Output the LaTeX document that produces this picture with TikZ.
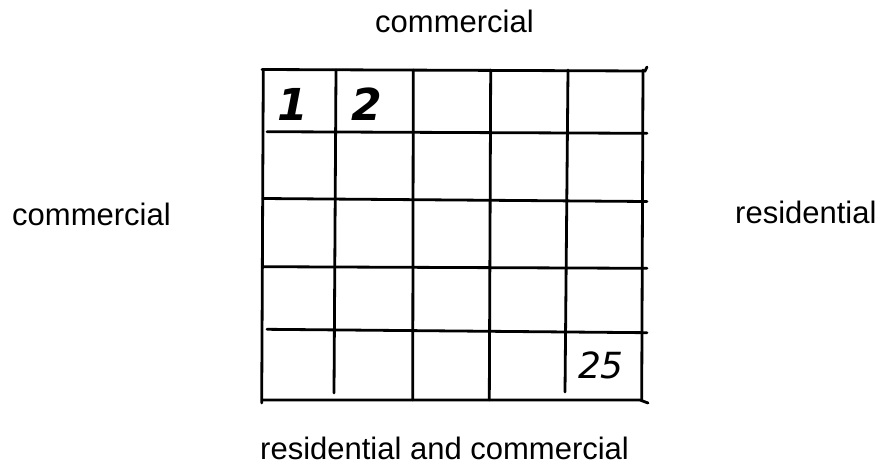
\documentclass[tikz,border=0pt]{standalone}
\usepackage{fontspec}
\setmainfont{Liberation Sans}
\newfontfamily\handfont{DejaVu Sans}
\begin{document}
\begin{tikzpicture}[x=1pt,y=-1pt,
  gridline/.style={line width=2.8pt,line cap=round,black},
  label/.style={font=\fontsize{31}{36}\selectfont,inner sep=0pt,anchor=base west},
  digit/.style={inner sep=0pt}]
\useasboundingbox (0,0) rectangle (883,464);
% outer frame
\draw[gridline] (262,69.5) -- (645,71) -- (647,67);
\draw[gridline] (263.3,70) -- (261.7,403);
\draw[gridline] (262,400) -- (640,400) -- (648,403);
\draw[gridline] (643,70) -- (641.7,400);
% vertical lines
\draw[gridline] (336,70) -- (334,393);
\draw[gridline] (413.3,70) -- (412.7,400);
\draw[gridline] (490.7,70) -- (489.3,400);
\draw[gridline] (568,70) -- (565,392);
% horizontal lines
\draw[gridline] (267,131.7) -- (647,133.3);
\draw[gridline] (263,198.5) -- (647,201.5);
\draw[gridline] (263,266.7) -- (647,268.3);
\draw[gridline] (267,329.3) -- (647,332.7);
% cell numbers
\node[digit,font=\handfont\bfseries\itshape\fontsize{44}{48}\selectfont] (n1) at (293,104) {1};
\node[digit,font=\handfont\bfseries\itshape\fontsize{44}{48}\selectfont] (n2) at (367,104) {2};
\node[digit,font=\handfont\itshape\fontsize{36}{40}\selectfont] (n25) at (601,365) {25};
% labels
\node[label] (top) at (375,32) {commercial};
\node[label] (left) at (12,225) {commercial};
\node[label] (right) at (735,223) {residential};
\node[label] (bottom) at (260,459) {\smash{residential and commercial}};
\end{tikzpicture}
\end{document}
